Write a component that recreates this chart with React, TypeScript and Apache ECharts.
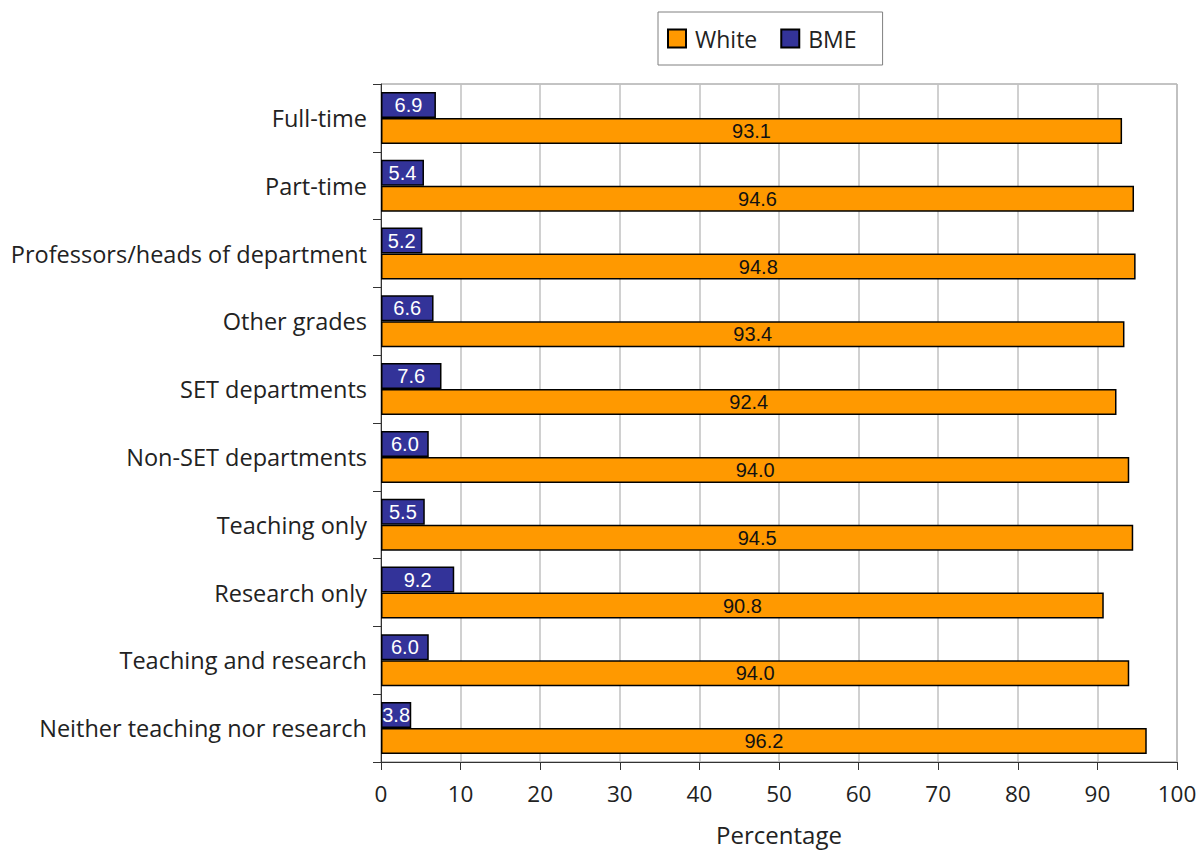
import React, { useEffect, useRef } from "react";
import * as echarts from "echarts";

const categories = [
  "Full-time",
  "Part-time",
  "Professors/heads of department",
  "Other grades",
  "SET departments",
  "Non-SET departments",
  "Teaching only",
  "Research only",
  "Teaching and research",
  "Neither teaching nor research",
];
const whiteValues = [93.1, 94.6, 94.8, 93.4, 92.4, 94.0, 94.5, 90.8, 94.0, 96.2];
const bmeValues = [6.9, 5.4, 5.2, 6.6, 7.6, 6.0, 5.5, 9.2, 6.0, 3.8];
const xTicks = [0, 10, 20, 30, 40, 50, 60, 70, 80, 90, 100];

const FONT = "Open Sans";

export default function App() {
  const ref = useRef<HTMLDivElement>(null);
  useEffect(() => {
    const chart = echarts.init(ref.current!, null, { renderer: "svg" });
    chart.setOption({
      animation: false,
      backgroundColor: "#ffffff",
      textStyle: { fontFamily: FONT },
      legend: {
        data: ["White", "BME"],
        left: 658,
        top: 12,
        padding: [15, 26, 15, 9],
        borderColor: "#808080",
        borderWidth: 1,
        itemWidth: 18,
        itemHeight: 18,
        itemGap: 23,
        icon: "rect",
        textStyle: { fontFamily: FONT, fontSize: 23, color: "#222", padding: [0, 0, 0, 4] },
      },
      grid: {
        left: 381,
        right: 23,
        top: 84,
        bottom: 88,
        containLabel: false,
        outerBoundsMode: "none",
        show: true,
        borderColor: "#888",
        borderWidth: 1,
      },
      xAxis: {
        type: "value",
        min: 0,
        max: 100,
        interval: 10,
        name: "Percentage",
        nameLocation: "middle",
        nameGap: 60,
        nameTextStyle: { fontFamily: FONT, fontSize: 24, color: "#222" },
        axisLine: { show: true, lineStyle: { color: "#333", width: 1 } },
        axisTick: { show: true, length: 8, lineStyle: { color: "#333" } },
        axisLabel: { fontFamily: FONT, fontSize: 22.5, color: "#222", margin: 20, formatter: (v: number) => (xTicks.includes(v) ? String(v) : "") },
        splitLine: { show: true, lineStyle: { color: "#c0c0c0", width: 1.5 } },
      },
      yAxis: {
        type: "category",
        data: categories,
        inverse: true,
        axisLine: { show: true, lineStyle: { color: "#333", width: 1 } },
        axisTick: { show: true, length: 8, lineStyle: { color: "#333" } },
        axisLabel: { fontFamily: FONT, fontSize: 23.5, color: "#222", margin: 14 },
        splitLine: { show: false },
      },
      series: [
        {
          name: "BME",
          type: "bar",
          data: bmeValues,
          barWidth: 26,
          barGap: "0%",
          barCategoryGap: "23%",
          itemStyle: { color: "#333399", borderColor: "#000", borderWidth: 1.5 },
          label: {
            show: true,
            position: "inside",
            color: "#ffffff",
            fontFamily: "Liberation Sans",
            fontSize: 20,
            formatter: (p: any) => Number(p.value).toFixed(1),
          },
        },
        {
          name: "White",
          type: "bar",
          data: whiteValues,
          barWidth: 26,
          barGap: "0%",
          barCategoryGap: "23%",
          itemStyle: { color: "#ff9900", borderColor: "#000", borderWidth: 1.5 },
          label: {
            show: true,
            position: "inside",
            color: "#111",
            fontFamily: "Liberation Sans",
            fontSize: 20,
            formatter: (p: any) => Number(p.value).toFixed(1),
          },
        },
      ],
    });
    return () => chart.dispose();
  }, []);
  return <div ref={ref} style={{ width: 1200, height: 850, position: "absolute", left: 0, top: 0 }} />;
}
